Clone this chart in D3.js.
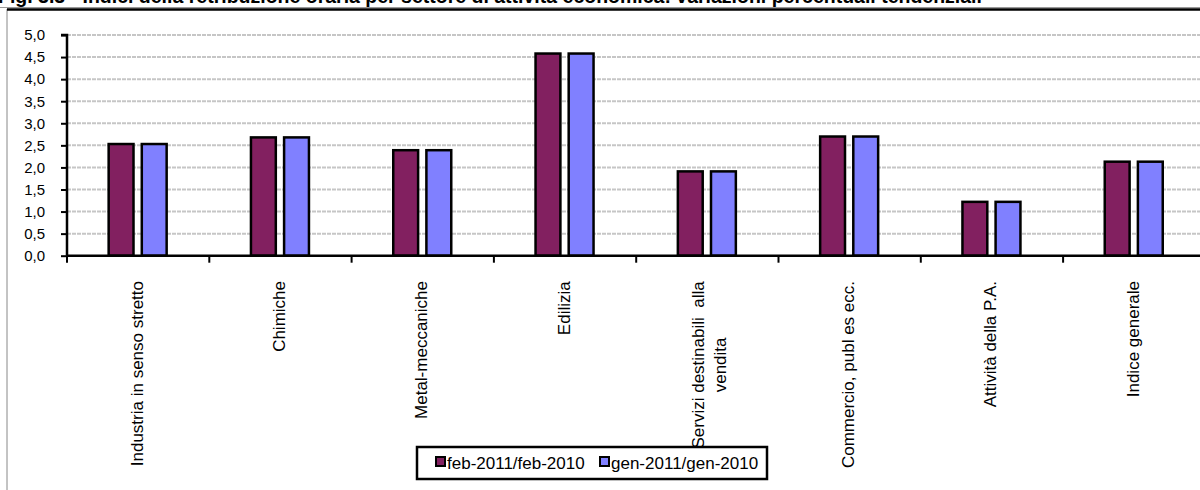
<!DOCTYPE html>
<html><head><meta charset="utf-8">
<script src="https://cdn.jsdelivr.net/npm/d3@7"></script>
<style>
html,body{margin:0;padding:0;background:#fff;}
svg{display:block;}
.nar{font-family:"Liberation Sans Narrow","Arial Narrow","Liberation Sans",Arial,sans-serif;}
</style></head>
<body><svg id="c" width="1200" height="490"></svg>
<script>
const categories = [
  ["Industria in senso stretto"],
  ["Chimiche"],
  ["Metal-meccaniche"],
  ["Edilizia"],
  ["Servizi destinabili  alla", "vendita"],
  ["Commercio, publ es ecc."],
  ["Attività della P.A."],
  ["Indice generale"]
];
const seriesNames = ["feb-2011/feb-2010", "gen-2011/gen-2010"];
const febValues = [2.53, 2.68, 2.39, 4.58, 1.91, 2.70, 1.22, 2.13];
const genValues = [2.53, 2.68, 2.39, 4.58, 1.91, 2.70, 1.22, 2.13];
const yTicks = [0, 0.5, 1, 1.5, 2, 2.5, 3, 3.5, 4, 4.5, 5];
const colors = ["#822060", "#8080FF"];
const title = "Fig. 3.3 - Indici della retribuzione oraria per settore di attività economica: variazioni percentuali tendenziali";

const svg = d3.select("#c");
svg.style("font-family", "Arial, 'Liberation Sans', sans-serif");

// frame
svg.append("line").attr("x1",7).attr("x2",7).attr("y1",9).attr("y2",490).attr("stroke","#888").attr("stroke-width",1);
svg.append("line").attr("x1",0).attr("x2",1200).attr("y1",7.5).attr("y2",7.5).attr("stroke","#999").attr("stroke-width",1);
svg.append("line").attr("x1",7).attr("x2",1200).attr("y1",9.5).attr("y2",9.5).attr("stroke","#000").attr("stroke-width",2.5);

// title (cut off at the top, as in the source image)
svg.append("text").attr("x",-2).attr("y",3).attr("font-weight","bold").attr("font-size",19.5)
  .attr("font-family","Arial, 'Liberation Sans', sans-serif").text(title);

const x0 = 67, x1e = 67 + 8*142.3;
const y = d3.scaleLinear().domain([0,5]).range([255.7, 35]);
const xc = d3.scaleBand().domain(d3.range(categories.length)).range([x0, x1e]).padding(0);
const bw = xc.bandwidth();
const xs = d3.scaleBand().domain([0,1]).range([bw/2-29.5, bw/2+28.5]).paddingInner(0.25);

// gridlines
svg.append("g").selectAll("line").data(yTicks.filter(d=>d>0)).join("line")
  .attr("x1",x0).attr("x2",1200).attr("y1",d=>y(d)).attr("y2",d=>y(d))
  .attr("stroke","#c6c6c6").attr("stroke-width",2).attr("stroke-dasharray","4,1");

// bars
const data = categories.map((c,i)=>({i, vals:[febValues[i], genValues[i]]}));
const g = svg.append("g").selectAll("g").data(data).join("g")
  .attr("transform", d=>`translate(${xc(d.i)},0)`);
g.selectAll("rect").data(d=>d.vals.map((v,k)=>({v,k}))).join("rect")
  .attr("x", d=>xs(d.k)).attr("width", xs.bandwidth())
  .attr("y", d=>y(d.v)).attr("height", d=>y(0)-y(d.v))
  .attr("fill", d=>colors[d.k]).attr("stroke","#000").attr("stroke-width",2.5);

// y axis
const yAxis = d3.axisLeft(y).tickValues(yTicks).tickSize(6).tickPadding(16)
  .tickFormat(d=>d3.format(".1f")(d).replace(".", ","));
const ya = svg.append("g").attr("transform",`translate(${x0},0)`).call(yAxis);
ya.select(".domain").attr("stroke","#000").attr("stroke-width",2.5).attr("d",`M-6,${y(5)}H0V${y(0)}`);
ya.selectAll(".tick line").attr("stroke","#000").attr("stroke-width",2);
ya.selectAll(".tick text").attr("class","nar").attr("font-size",15).attr("fill","#000").attr("x",-22);

// x axis
const xa = svg.append("g");
xa.append("line").attr("x1",x0).attr("x2",1200).attr("y1",y(0)).attr("y2",y(0)).attr("stroke","#000").attr("stroke-width",2.5);
xa.selectAll("line.t").data(d3.range(categories.length+1)).join("line").attr("class","t")
  .attr("x1",d=>x0+d*bw).attr("x2",d=>x0+d*bw).attr("y1",y(0)).attr("y2",y(0)+7)
  .attr("stroke","#000").attr("stroke-width",2);

// x labels rotated
const lab = svg.append("g").selectAll("text").data(categories).join("text")
  .attr("class","nar").attr("font-size",17).attr("fill","#000")
  .attr("transform",(d,i)=>`translate(${xc(i)+bw/2},281) rotate(-90)`)
  .attr("text-anchor","middle");
lab.each(function(lines){
  const t = d3.select(this);
  const n = lines.length;
  lines.forEach((ln,k)=>{
    const base = n === 1 ? 4.5 : (k === 0 ? -3.5 : 18.5);
    t.append("tspan").attr("x",0).attr("y",base).attr("xml:space","preserve").text(ln);
  });
});
lab.each(function(){
  const t = d3.select(this);
  const w = this.getBBox().width;
  t.selectAll("tspan").attr("x", -w/2);
});

// legend
const lg = svg.append("g");
lg.append("rect").attr("x",417).attr("y",447).attr("width",350).attr("height",32)
  .attr("fill","#fff").attr("stroke","#000").attr("stroke-width",2.5);
const lx = [436, 600];
seriesNames.forEach((s,k)=>{
  lg.append("rect").attr("x",lx[k]).attr("y",457).attr("width",9).attr("height",9)
    .attr("fill",colors[k]).attr("stroke","#000").attr("stroke-width",2);
  lg.append("text").attr("class","nar").attr("x",lx[k]+11).attr("y",469).attr("font-size",17).text(s);
});
</script></body></html>
